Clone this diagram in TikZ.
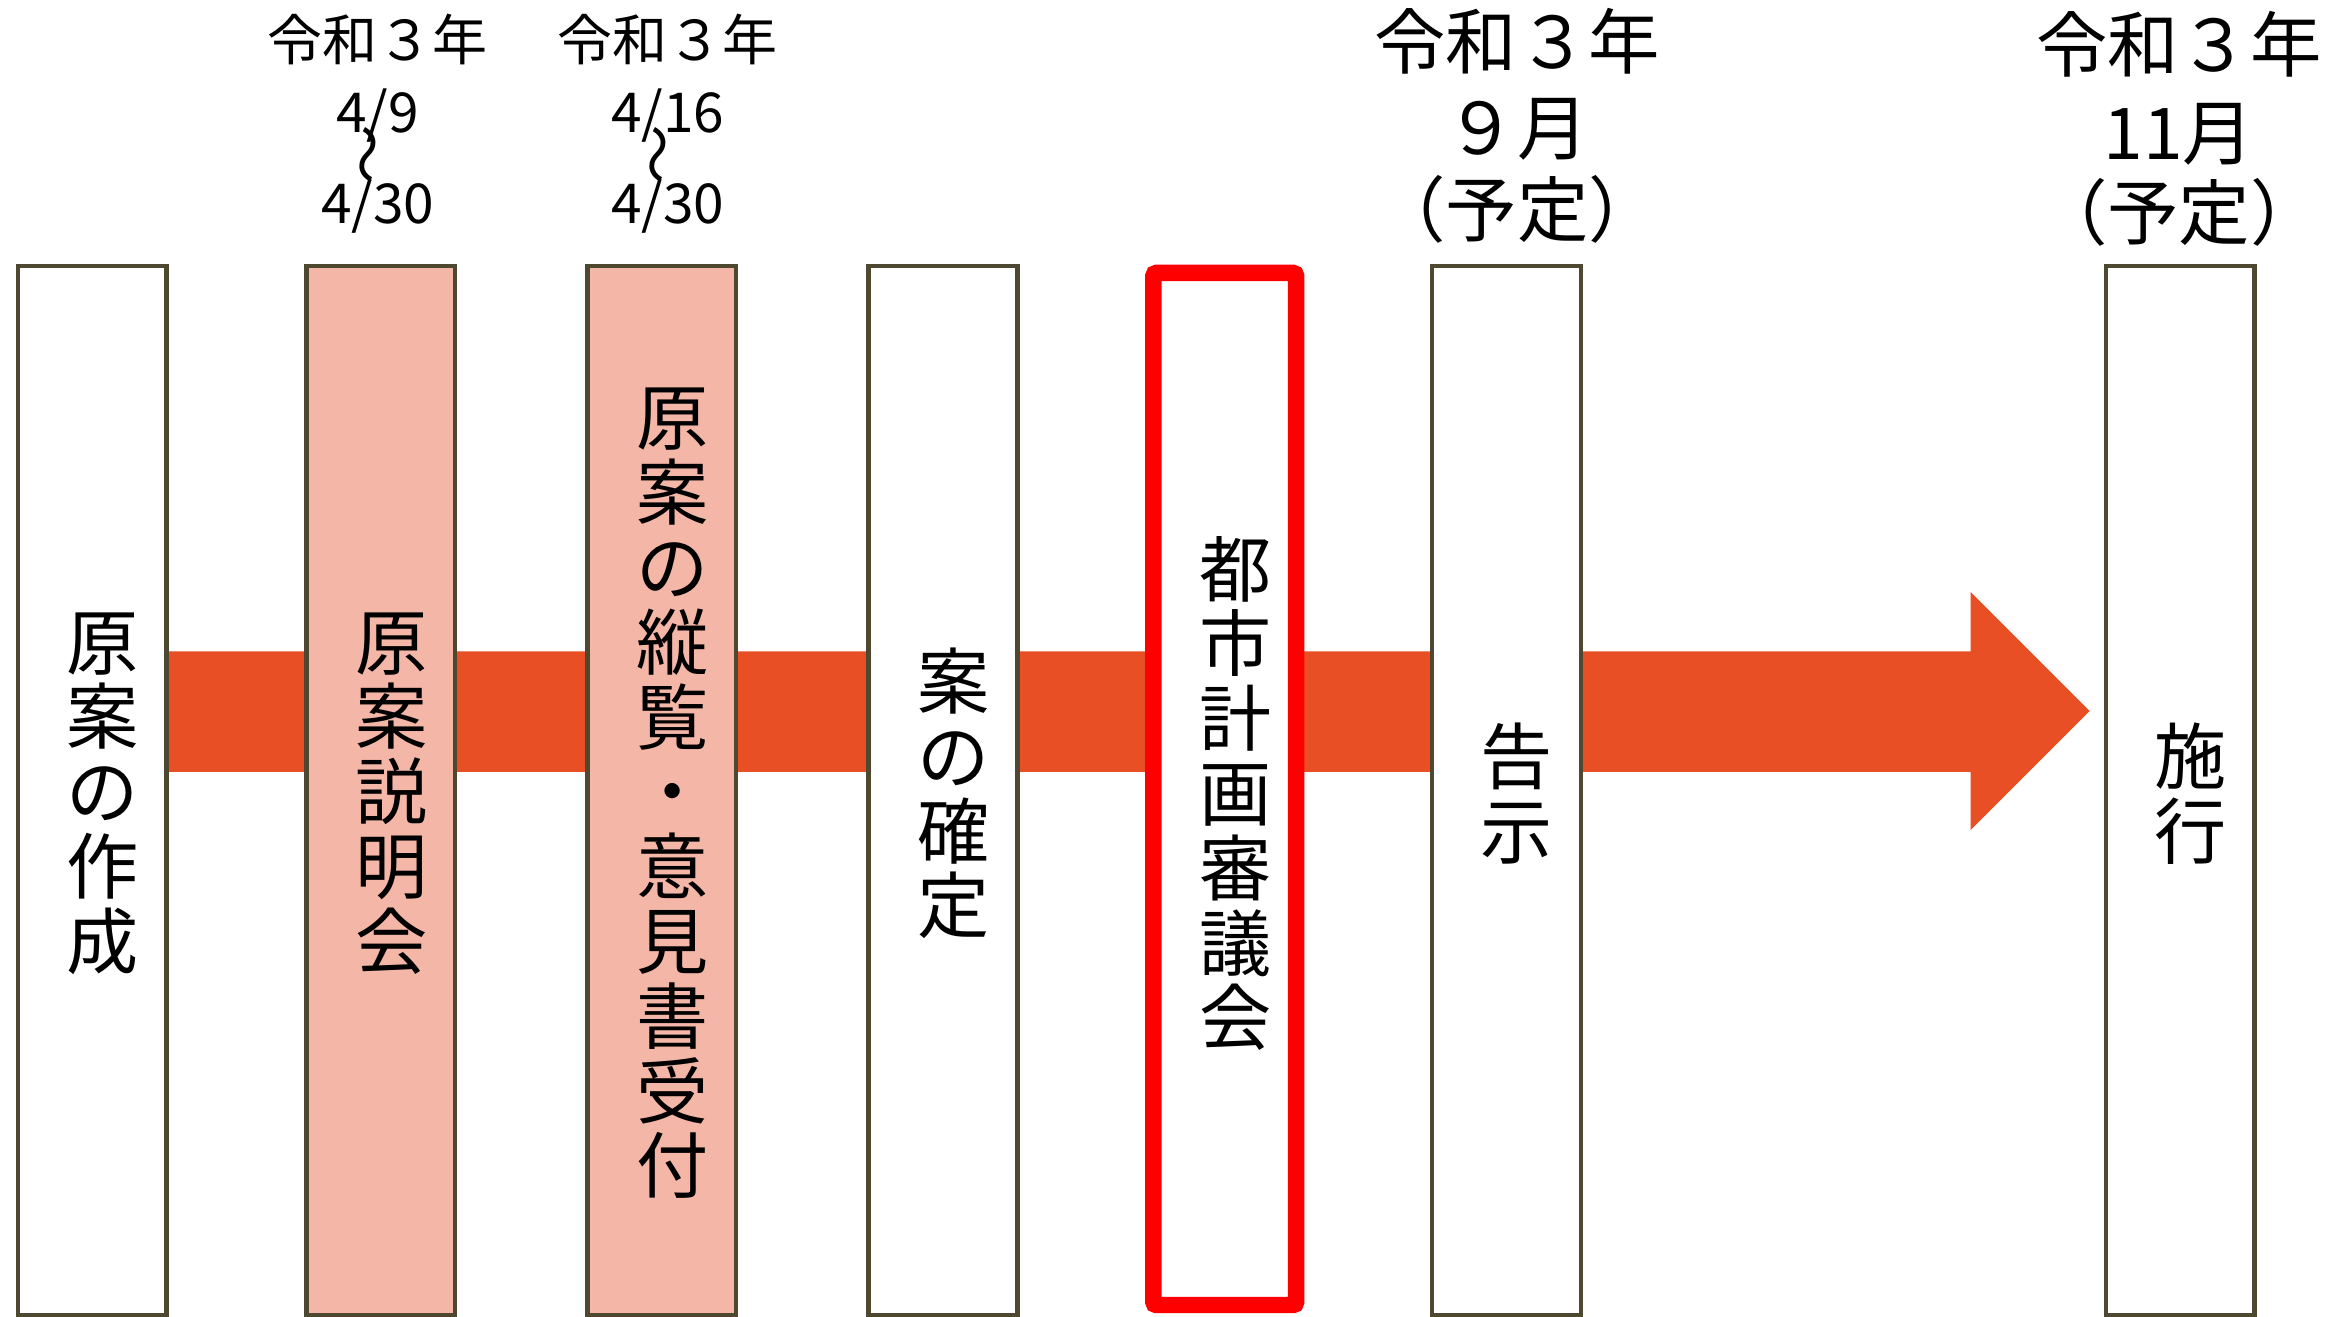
\documentclass[tikz,border=0pt]{standalone}
\usepackage{fontspec}
\newfontfamily\jp{Noto Sans CJK JP}
\definecolor{arrowc}{HTML}{E84F24}
\definecolor{salmon}{HTML}{F4B6A6}
\definecolor{edgec}{HTML}{4F4830}
\definecolor{redc}{HTML}{FF0000}
\begin{document}
\begin{tikzpicture}[x=1pt,y=-1pt,
  stagebox/.style={draw=edgec, line width=3pt, fill=white, minimum width=100pt, minimum height=705pt, inner sep=0pt},
  hilite/.style={fill=salmon},
  redbox/.style={draw=redc, line width=11pt, rounded corners=2pt, fill=white, minimum width=96pt, minimum height=694pt, inner sep=0pt},
  vtext/.style={font=\jp\fontsize{48.5}{50.3}\selectfont, align=center, inner sep=0pt},
  smalllab/.style={font=\jp\fontsize{37}{40}\selectfont, inner sep=0pt, anchor=base},
  biglab/.style={font=\jp\fontsize{48}{50}\selectfont, inner sep=0pt, anchor=base},
  wave/.style={font=\jp\fontsize{40}{40}\selectfont, inner sep=0pt, rotate=90}]
\useasboundingbox (0,0) rectangle (1568,885);
% big arrow
\fill[arrowc] (113,438) -- (1325,438) -- (1325,398) -- (1405,478) -- (1325,558) -- (1325,519) -- (113,519) -- cycle;
% boxes
\node[stagebox] (b1) at (62,531.5) {};
\node[stagebox,hilite] (b2) at (256,531.5) {};
\node[stagebox,hilite] (b3) at (445,531.5) {};
\node[stagebox] (b4) at (634,531.5) {};
\node[redbox] (b5) at (823.5,530.5) {};
\node[stagebox] (b6) at (1013,531.5) {};
\node[stagebox] (b7) at (1466,531.5) {};
% vertical texts
\node[vtext] (t1) at ([shift={(7,2)}]b1.center) {原\\案\\の\\作\\成};
\node[vtext] (t2) at ([shift={(7,2)}]b2.center) {原\\案\\説\\明\\会};
\node[vtext] (t3) at ([shift={(7,2)}]b3.center) {原\\案\\の\\縦\\覧\\・\\意\\見\\書\\受\\付};
\node[vtext] (t4) at ([shift={(7,2)}]b4.center) {案\\の\\確\\定};
\node[vtext] (t5) at ([shift={(7,3)}]b5.center) {都\\市\\計\\画\\審\\議\\会};
\node[vtext] (t6) at ([shift={(7,2)}]b6.center) {告\\示};
\node[vtext] (t7) at ([shift={(7,2)}]b7.center) {施\\行};
% labels above box 2
\node[smalllab] (l2a) at (254,41) {令和３年};
\node[smalllab] (l2b) at (254,89) {4/9};
\node[wave] (l2w) at (252,104) {～};
\node[smalllab] (l2c) at (254,150) {4/30};
% labels above box 3
\node[smalllab] (l3a) at (449,41) {令和３年};
\node[smalllab] (l3b) at (449,89) {4/16};
\node[wave] (l3w) at (447,104) {～};
\node[smalllab] (l3c) at (449,150) {4/30};
% labels above box 6
\node[biglab] (l6a) at (1020,46) {令和３年};
\node[biglab] (l6b) at (1020,104) {９月};
\node[biglab] (l6c) at (1020,159) {（予定）};
% labels above box 7
\node[biglab] (l7a) at (1465,48) {令和３年};
\node[biglab] (l7b) at (1465,107) {11月};
\node[biglab] (l7c) at (1465,161) {（予定）};
\end{tikzpicture}
\end{document}
